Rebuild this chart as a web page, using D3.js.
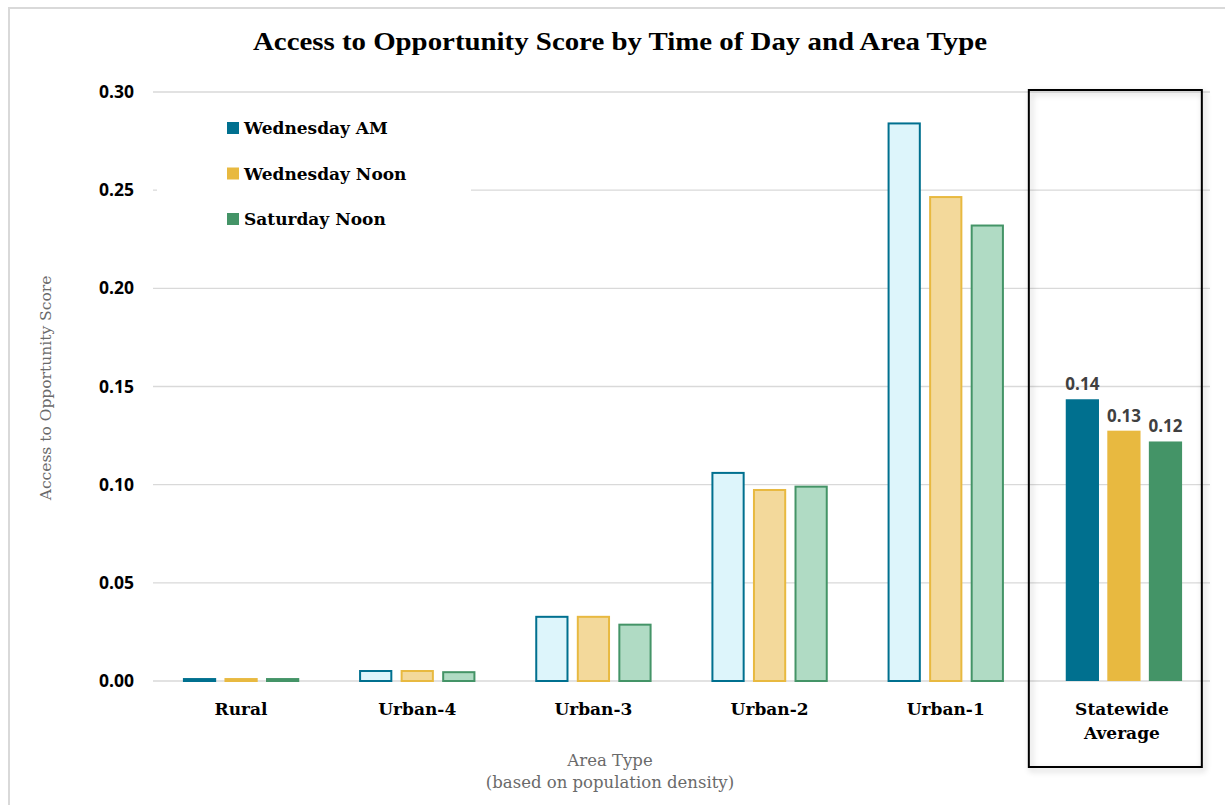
<!DOCTYPE html>
<html><head><meta charset="utf-8">
<script src="https://cdn.jsdelivr.net/npm/d3@7/dist/d3.min.js"></script>
<style>body{margin:0;background:#fff}svg{display:block}</style>
</head><body>
<svg id="c" width="1225" height="805"></svg>
<script>
const categories = ["Rural","Urban-4","Urban-3","Urban-2","Urban-1","Statewide Average"];
const seriesNames = ["Wednesday AM","Wednesday Noon","Saturday Noon"];
const wedAM   = [0.0015, 0.0056, 0.0332, 0.1065, 0.2845, 0.1435];
const wedNoon = [0.0015, 0.0056, 0.0332, 0.0978, 0.2470, 0.1275];
const satNoon = [0.0015, 0.0050, 0.0292, 0.0995, 0.2325, 0.1220];
const statewideLabels = ["0.14","0.13","0.12"];
const yTicks = [0, 0.05, 0.10, 0.15, 0.20, 0.25, 0.30];

const strokeColors = ["#00708f","#e8b940","#449467"];
const fillColors = ["#ddf5fb","#f3d99b","#b0dbc4"];
const series = [wedAM, wedNoon, satNoon];

const svg = d3.select("#c");
const serif = "'DejaVu Serif',serif";
const tserif = "'Liberation Serif','DejaVu Serif',serif";
const sans = "'Open Sans','Liberation Sans',sans-serif";

// outer frame
svg.append("rect").attr("x",9).attr("y",8).attr("width",1230).attr("height",810)
  .attr("fill","#fff").attr("stroke","#d9d9d9").attr("stroke-width",2);

const x0 = d3.scaleBand().domain(categories).range([153,1210]).paddingInner(0).paddingOuter(0);
const x1 = d3.scaleBand().domain(seriesNames).range([0,x0.bandwidth()]).paddingInner(0.2).paddingOuter(0.72);
const y = d3.scaleLinear().domain([0,0.30]).range([681,92]);

// gridlines
svg.append("g").selectAll("line").data(yTicks).join("line")
  .attr("x1",153).attr("x2",1210).attr("y1",d=>y(d)).attr("y2",d=>y(d))
  .attr("stroke","#d9d9d9").attr("stroke-width",1.3);

// y axis labels
const yAxis = d3.axisLeft(y).tickValues(yTicks).tickFormat(d3.format(".2f")).tickSize(0).tickPadding(0);
const ga = svg.append("g").attr("transform","translate(134,0)").call(yAxis);
ga.select(".domain").remove();
ga.selectAll("text").attr("font-family",sans).attr("font-weight","bold").attr("font-size",17.5).attr("fill","#000");

// statewide box shadow + box
const sx = x0("Statewide Average");
const defs = svg.append("defs");
const f = defs.append("filter").attr("id","sh").attr("x","-10%").attr("y","-10%").attr("width","130%").attr("height","130%");
f.append("feGaussianBlur").attr("in","SourceAlpha").attr("stdDeviation",3);
f.append("feOffset").attr("dx",2).attr("dy",3).attr("result","b");
f.append("feComponentTransfer").append("feFuncA").attr("type","linear").attr("slope",0.25);
const m = f.append("feMerge"); m.append("feMergeNode"); m.append("feMergeNode").attr("in","SourceGraphic");
svg.append("rect").attr("x",sx-5).attr("y",90).attr("width",173).attr("height",677)
  .attr("fill","none").attr("stroke","#000").attr("stroke-width",2).attr("filter","url(#sh)");

// legend background
svg.append("rect").attr("x",157).attr("y",100).attr("width",314).attr("height",145).attr("fill","#fff");

// bars
const g = svg.append("g");
categories.forEach((c,ci)=>{
  const isAvg = c === "Statewide Average";
  series.forEach((s,si)=>{
    const v = s[ci];
    const bx = x0(c)+x1(seriesNames[si]);
    if(isAvg){
      g.append("rect").attr("x",bx+2).attr("y",y(v)).attr("width",x1.bandwidth()).attr("height",y(0)-y(v))
        .attr("fill",strokeColors[si]);
      g.append("text").attr("x",bx+2+x1.bandwidth()/2).attr("y",y(v)-9).attr("text-anchor","middle")
        .attr("font-family",sans).attr("font-weight","bold").attr("font-size",17).attr("fill","#404040")
        .text(statewideLabels[si]);
    } else {
      const h = Math.max(y(0)-y(v),1);
      g.append("rect").attr("x",bx+1).attr("y",y(v)+1).attr("width",x1.bandwidth()-2).attr("height",Math.max(h-1,1))
        .attr("fill",fillColors[si]).attr("stroke",strokeColors[si]).attr("stroke-width",2);
    }
  });
});

// x labels
categories.forEach(c=>{
  const cx = x0(c)+x0.bandwidth()/2;
  const t = svg.append("text").attr("x",cx).attr("y",715).attr("text-anchor","middle")
    .attr("font-family",serif).attr("font-weight","bold").attr("font-size",17).attr("fill","#000");
  if(c==="Statewide Average"){
    t.append("tspan").attr("x",cx).attr("dy",0).text("Statewide");
    t.append("tspan").attr("x",cx).attr("dy",24).text("Average");
  } else t.text(c);
});

// legend
seriesNames.forEach((n,i)=>{
  const ly = 128 + i*45.5;
  svg.append("rect").attr("x",227).attr("y",ly-6).attr("width",12).attr("height",12).attr("fill",strokeColors[i]);
  svg.append("text").attr("x",244).attr("y",ly+6).attr("font-family",serif).attr("font-weight","bold")
    .attr("font-size",17).attr("fill","#000").text(n);
});

// title
svg.append("text").attr("x",620).attr("y",50).attr("text-anchor","middle")
  .attr("font-family",tserif).attr("font-weight","bold").attr("font-size",25).attr("fill","#000")
  .attr("textLength",734).attr("lengthAdjust","spacingAndGlyphs")
  .text("Access to Opportunity Score by Time of Day and Area Type");

// axis titles
svg.append("text").attr("transform","translate(51,388) rotate(-90)").attr("text-anchor","middle")
  .attr("font-family",serif).attr("font-size",15.5).attr("fill","#6a6a6a").text("Access to Opportunity Score");
svg.append("text").attr("x",610).attr("y",766).attr("text-anchor","middle")
  .attr("font-family",serif).attr("font-size",16.5).attr("fill","#6a6a6a").text("Area Type");
svg.append("text").attr("x",610).attr("y",788).attr("text-anchor","middle")
  .attr("font-family",serif).attr("font-size",16.5).attr("fill","#6a6a6a").text("(based on population density)");
</script>
</body></html>
